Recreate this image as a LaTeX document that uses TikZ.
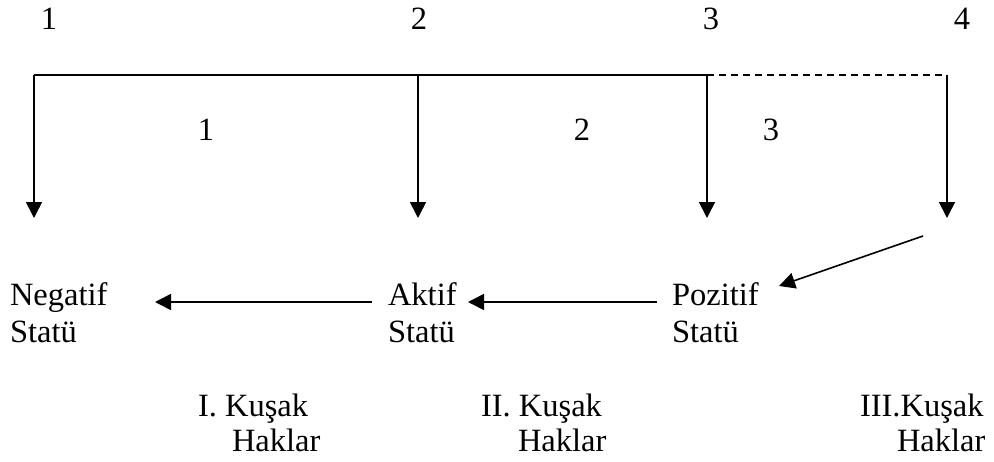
\documentclass[tikz,border=0pt]{standalone}
\usepackage{fontspec}
\setmainfont{Liberation Serif}
\usetikzlibrary{arrows.meta}
\begin{document}
\begin{tikzpicture}[x=1pt,y=-1pt,
  lbl/.style={inner sep=0pt,outer sep=0pt,font=\fontsize{32.5}{36}\selectfont},
  ln/.style={line width=1.6pt},
  arr/.style={ln,-{Triangle[length=16pt,width=16pt]}},
  dsh/.style={ln,dash pattern=on 7pt off 5pt}]
\useasboundingbox (0,0) rectangle (994,461);
% top numbers
\node[lbl,anchor=base] (n1) at (49,29) {1};
\node[lbl,anchor=base] (n2) at (419,29) {2};
\node[lbl,anchor=base] (n3) at (711,29) {3};
\node[lbl,anchor=base] (n4) at (962,29) {4};
% top line and drops
\coordinate (t1) at (34,75);
\coordinate (t2) at (418,75);
\coordinate (t3) at (707,75);
\coordinate (t4) at (947,75);
\coordinate (b1) at (34,218);
\coordinate (b2) at (418,218);
\coordinate (b3) at (707,218);
\coordinate (b4) at (947,218);
\draw[ln] (t1) -- (t3);
\draw[dsh] (t3) -- (t4);
\draw[arr] (t1) -- (b1);
\draw[arr] (t2) -- (b2);
\draw[arr] (t3) -- (b3);
\draw[arr] (t4) -- (b4);
% middle numbers
\node[lbl,anchor=base] (m1) at (206,140) {1};
\node[lbl,anchor=base] (m2) at (582,140) {2};
\node[lbl,anchor=base] (m3) at (771,140) {3};
% status labels
\node[lbl,anchor=base west] (neg1) at (10,305) {Negatif};
\node[lbl,anchor=base west] (neg2) at (10,342) {Statü};
\node[lbl,anchor=base west] (akt1) at (388,305) {Aktif};
\node[lbl,anchor=base west] (akt2) at (388,342) {Statü};
\node[lbl,anchor=base west] (poz1) at (672,305) {Pozitif};
\node[lbl,anchor=base west] (poz2) at (672,342) {Statü};
% horizontal arrows
\coordinate (a1s) at (372,302);
\coordinate (a1e) at (155,302);
\coordinate (a2s) at (657,302);
\coordinate (a2e) at (468,302);
\draw[arr] (a1s) -- (a1e);
\draw[arr] (a2s) -- (a2e);
% diagonal arrow
\coordinate (d1) at (923,236);
\coordinate (d2) at (779,286);
\draw[arr] (d1) -- (d2);
% generations
\node[lbl,anchor=base west] (k1) at (198,416) {I. Kuşak};
\node[lbl,anchor=base west] (h1) at (232,451) {Haklar};
\node[lbl,anchor=base west] (k2) at (481,416) {II. Kuşak};
\node[lbl,anchor=base west] (h2) at (518,451) {Haklar};
\node[lbl,anchor=base west] (k3) at (860,416) {III.Kuşak};
\node[lbl,anchor=base west] (h3) at (897,451) {Haklar};
\end{tikzpicture}
\end{document}
